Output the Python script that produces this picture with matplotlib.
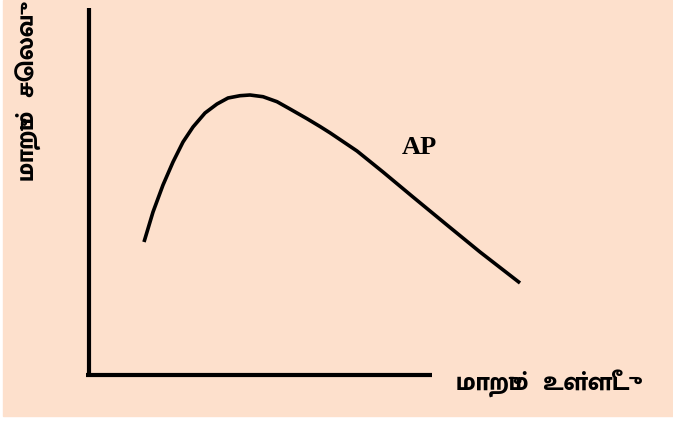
import matplotlib
matplotlib.use("Agg")
import matplotlib.pyplot as plt
from matplotlib import font_manager
from matplotlib.patches import Rectangle
from fontTools.ttLib import TTFont

# AP curve (pixel coords, y grows downward)
ap_x = [144, 153, 163, 173, 183, 193, 205, 217, 228, 240, 250, 263, 277, 290,
        307, 320, 330, 357, 383, 413, 447, 480, 520]
ap_y = [242, 212, 185, 162, 142, 127, 113, 104, 98, 95.7, 95, 96.7, 101.7, 109,
        118.7, 126.5, 132.8, 151, 172, 197, 225, 252, 283]

y_label = "மாறும்  செலவு"
x_label = "மாறும்  உள்ளீடு"
curve_label = "AP"


# find a font that has Tamil glyphs, heaviest first
def find_tamil_font():
    found = []
    for f in font_manager.fontManager.ttflist:
        try:
            tt = TTFont(f.fname, fontNumber=0, lazy=True)
            cmap = tt.getBestCmap()
            if cmap and 0x0BAE in cmap:
                w = f.weight if isinstance(f.weight, int) else 400
                found.append((w, f.name))
        except Exception:
            continue
    found.sort(reverse=True)
    return found[0] if found else (400, None)


tamil_w, tamil = find_tamil_font()
fams = [tamil, "DejaVu Sans"] if tamil else ["DejaVu Sans"]

fig = plt.figure(figsize=(6.73, 4.21), dpi=100)
ax = fig.add_axes([0, 0, 1, 1])
ax.set_xlim(0, 673)
ax.set_ylim(421, 0)
ax.axis("off")

# peach background
ax.add_patch(Rectangle((3, 0), 670, 416, color="#fde0cc", zorder=0))

# axes lines
ax.plot([89, 89], [8, 376], color="black", lw=3, solid_capstyle="butt")
ax.plot([86, 432], [375, 375], color="black", lw=3, solid_capstyle="butt")

# AP curve
ax.plot(ap_x, ap_y, color="black", lw=2.6, solid_joinstyle="round", solid_capstyle="butt")
ax.text(419, 147, curve_label, fontsize=19, fontweight="bold",
        family="Liberation Serif", ha="center", va="center")

# labels
ax.text(29, 97, y_label, rotation=90, fontsize=18, fontweight=tamil_w, family=fams,
        ha="center", va="center")
ax.text(543, 383, x_label, fontsize=18.5, fontweight=tamil_w, family=fams,
        ha="center", va="center")

fig.savefig("out.png", dpi=100)
